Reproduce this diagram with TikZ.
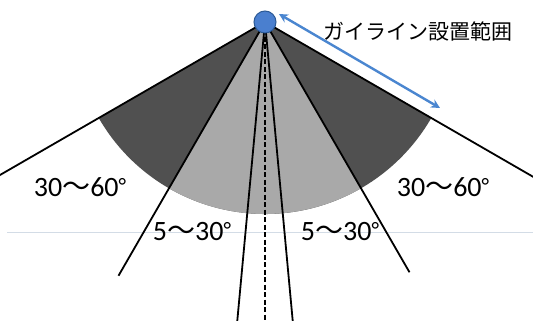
\documentclass[tikz,border=0pt]{standalone}
\usepackage{fontspec}
\setmainfont{Carlito}
\newfontfamily\cjk{Noto Sans CJK JP}
\usetikzlibrary{arrows.meta,calc}
\definecolor{darksec}{HTML}{505050}
\definecolor{lightsec}{HTML}{A9A9A9}
\definecolor{dotblue}{HTML}{4A7FCF}
\definecolor{dotedge}{HTML}{2C5A96}
\definecolor{arrowblue}{HTML}{4A86D0}
\definecolor{rulecol}{HTML}{D3DCE6}
\newcommand{\degsym}{\raisebox{3pt}{\fontsize{22}{22}\selectfont °}}
\tikzset{
  ray/.style={draw=black, line width=1.8pt},
  centerline/.style={draw=black, line width=2.4pt, dash pattern=on 5pt off 2.5pt},
  anglelabel/.style={inner sep=0pt, font=\fontsize{28}{28}\selectfont},
  rangelabel/.style={inner sep=0pt, font=\cjk\fontsize{21}{21}\selectfont},
  rangearrow/.style={draw=arrowblue, line width=2.4pt, {Stealth[length=9pt,width=9pt]}-{Stealth[length=9pt,width=9pt]}},
}
\begin{document}
\begin{tikzpicture}[x=1pt,y=-1pt]
\useasboundingbox (0,0) rectangle (533,321);
\fill[white] (0,0) rectangle (533,321);
\clip (0,0) rectangle (533,321);
\coordinate (A) at (265,22);
% faint horizontal rule
\coordinate (r1) at (7,232);
\coordinate (r2) at (533,232);
\draw[rulecol, line width=1pt] (r1) -- (r2);
% sectors
\fill[darksec] (A) -- ++(150:192) arc[start angle=150, end angle=30, radius=192] -- cycle;
\fill[lightsec] (A) -- ++(120:192) arc[start angle=120, end angle=60, radius=192] -- cycle;
% rays
\coordinate (L60) at ($(A)+(150:420)$);
\coordinate (R60) at ($(A)+(30:420)$);
\coordinate (L30) at ($(A)+(120:293)$);
\coordinate (R30) at ($(A)+(60:289)$);
\coordinate (L5) at ($(A)+(95.3:330)$);
\coordinate (R5) at ($(A)+(84.7:330)$);
\coordinate (C) at (265,330);
\draw[ray] (A) -- (L60);
\draw[ray] (A) -- (R60);
\draw[ray] (A) -- (L30);
\draw[ray] (A) -- (R30);
\draw[ray] (A) -- (L5);
\draw[ray] (A) -- (R5);
\draw[centerline] (A) -- (C);
% apex dot
\node[circle, fill=dotblue, draw=dotedge, line width=1pt, minimum size=22pt, inner sep=0pt] (dot) at (A) {};
% range arrow
\coordinate (a1) at (279,14);
\coordinate (a2) at (440,108);
\draw[rangearrow] (a1) -- (a2);
\node[rangelabel] (title) at (418,31) {ガイライン設置範囲};
% angle labels
\node[anglelabel] (l1) at (80,187) {30{\cjk 〜}60\degsym};
\node[anglelabel] (l2) at (443,187) {30{\cjk 〜}60\degsym};
\node[anglelabel] (l3) at (192,232) {5{\cjk 〜}30\degsym};
\node[anglelabel] (l4) at (340,232) {5{\cjk 〜}30\degsym};
\end{tikzpicture}
\end{document}
